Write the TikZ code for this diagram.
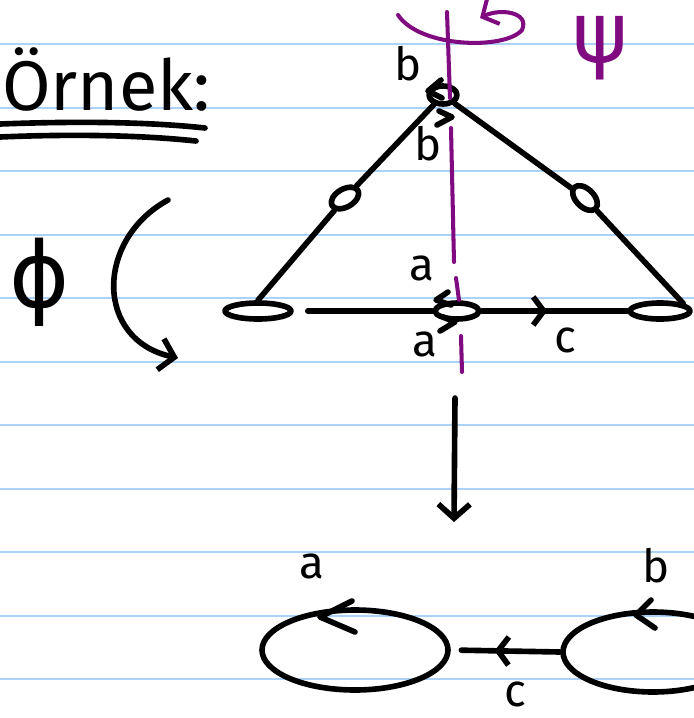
\documentclass[tikz,border=0pt]{standalone}
\usepackage{fontspec}
\setmainfont{Fira Sans}
\newfontfamily\symfont{DejaVu Sans}
\usetikzlibrary{shapes.geometric,arrows.meta,decorations.markings}
\definecolor{ruleblue}{RGB}{172,210,248}
\definecolor{axispurple}{RGB}{128,10,128}
\tikzset{
  pen/.style={line width=3.2pt, line cap=round, line join=round},
  vtx/.style={ellipse, draw, pen, inner sep=0pt},
  barb/.style={-{Straight Barb[length=8pt,width=18pt]}},
  lbl/.style={font=\fontsize{26}{26}\selectfont},
  axis/.style={axispurple, line width=2.3pt, line cap=round},
  midbarb/.style={postaction=decorate, decoration={markings,
      mark=at position #1 with {\arrow{Straight Barb[length=6pt,width=16pt]}}}},
}
\begin{document}
\begin{tikzpicture}[x=0.02cm, y=-0.02cm]
    \useasboundingbox (0,0) rectangle (694,718);
    % 1. Defter çizgileri
    \foreach \ly in {44,108,171,235,298,362,425,489,552,616,679}
        \draw[ruleblue, line width=1pt] (0,\ly) -- (694,\ly);

    % 2. Başlık
    \node[anchor=west, font=\fontsize{40}{40}\selectfont] (title) at (-4,80) {Örnek:};
    \draw[pen] (0,124) .. controls (80,121) and (150,122) .. (205,128);
    \draw[pen] (0,137) .. controls (70,134) and (140,135) .. (196,141);

    % 3. Üst graf: köşeler
    \node[vtx, minimum width=0.56cm, minimum height=0.36cm] (top) at (443,95) {};
    \node[vtx, minimum width=0.6cm, minimum height=0.36cm, rotate=30] (lm) at (345,198) {};
    \node[vtx, minimum width=0.6cm, minimum height=0.36cm, rotate=-45] (rm) at (585,198) {};
    \node[vtx, minimum width=1.32cm, minimum height=0.32cm] (bl) at (258,311) {};
    \node[vtx, minimum width=0.88cm, minimum height=0.32cm] (bm) at (457,311) {};
    \node[vtx, minimum width=1.2cm, minimum height=0.32cm] (br) at (660,311) {};

    % 4. Kenarlar
    \draw[pen] (top) -- (lm);
    \draw[pen] (lm) -- (bl.north);
    \draw[pen] (top) -- (rm);
    \draw[pen] (rm) -- (br.north east);
    \draw[pen, shorten <=8pt] (bl.east) -- (bm.west);
    \draw[pen, midbarb=0.45] (bm.east) -- (br.west);

    % 5. Döngü okları ve etiketler
    \draw[pen] (441,80) -- (428,91) -- (442,98);
    \draw[pen] (439,111) -- (452,117) -- (437,125);
    \draw[pen] (448,292) -- (436,300) -- (451,305);
    \draw[pen] (443,317) -- (455,322) -- (440,331);
    \node[lbl] (lb1) at (408,64) {b};
    \node[lbl] (lb2) at (428,144) {b};
    \node[lbl] (la1) at (422,268) {a};
    \node[lbl] (la2) at (425,344) {a};
    \node[lbl] (lc1) at (565,340) {c};

    % 6. Dönme ekseni (mor)
    \draw[axis] (447,12) -- (450,98);
    \draw[axis] (451,128) -- (454,262);
    \draw[axis] (456,278) -- (459,300);
    \draw[axis] (461,336) -- (462,372);
    \draw[axis, -{Straight Barb[length=7pt,width=16pt]}]
        (398,15) .. controls (420,48) and (505,50) .. (522,30)
        .. controls (530,12) and (500,8) .. (480,18);
    \node[axispurple, font=\symfont\fontsize{48}{48}\selectfont] (psi) at (600,48) {ψ};

    % 7. Sol: phi ve eğri ok
    \node[font=\symfont\fontsize{52}{52}\selectfont] (phi) at (40,282) {ϕ};
    \draw[pen, barb] (168,200) .. controls (95,240) and (95,340) .. (178,358);

    % 8. Aşağı ok
    \draw[pen, barb] (455,398) -- (454,522);

    % 9. Alt graf
    \node[vtx, minimum width=3.72cm, minimum height=1.6cm] (qa) at (355,650) {};
    \node[vtx, minimum width=3.6cm, minimum height=1.6cm] (qb) at (653,652) {};
    \draw[pen, midbarb=0.6, shorten >=6pt] (qb.west) -- (qa.east);
    \draw[pen] (352,601) -- (320,617) -- (355,632);
    \draw[pen] (651,600) -- (636,615) -- (655,628);
    \node[lbl] (qla) at (312,566) {a};
    \node[lbl] (qlb) at (656,566) {b};
    \node[lbl] (qlc) at (515,694) {c};
\end{tikzpicture}
\end{document}
